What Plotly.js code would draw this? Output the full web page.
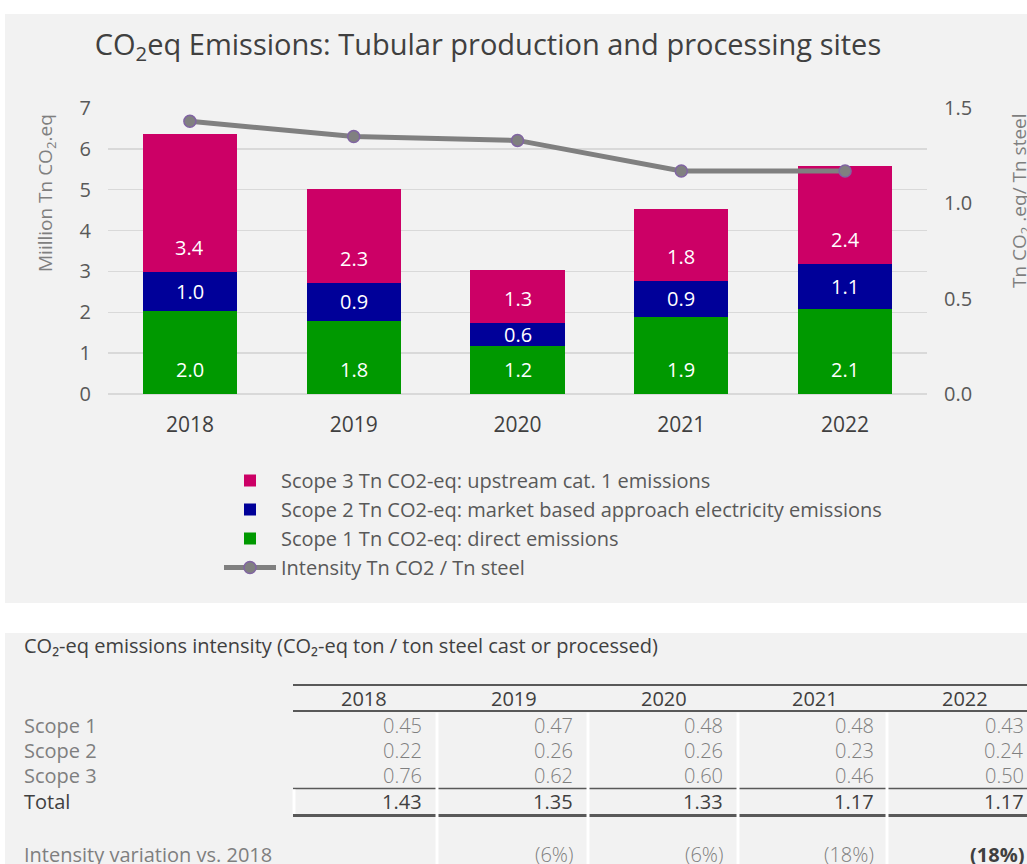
<!DOCTYPE html>
<html>
<head>
<meta charset="utf-8">
<script src="https://cdn.plot.ly/plotly-3.0.1.min.js"></script>
<style>
html,body{margin:0;padding:0;background:#ffffff;}
#chart{width:1027px;height:864px;}
</style>
</head>
<body>
<div id="chart"></div>
<script>
// ---------- chart data ----------
const years = ['2018', '2019', '2020', '2021', '2022'];
const scope1 = [2.03, 1.79, 1.17, 1.89, 2.07];   // Mt CO2-eq, direct
const scope2 = [0.96, 0.93, 0.56, 0.88, 1.12];   // Mt CO2-eq, market based electricity
const scope3 = [3.37, 2.30, 1.30, 1.77, 2.39];   // Mt CO2-eq, upstream cat. 1
const intensity = [1.43, 1.35, 1.33, 1.17, 1.17]; // Tn CO2 / Tn steel
const leftTickVals = [0, 1, 2, 3, 4, 5, 6, 7];
const rightTickVals = [0, 0.5, 1.0, 1.5];

const seriesNames = [
  'Scope 1 Tn CO2-eq: direct emissions',
  'Scope 2 Tn CO2-eq: market based approach electricity emissions',
  'Scope 3 Tn CO2-eq: upstream cat. 1 emissions',
  'Intensity Tn CO2 / Tn steel'
];

// ---------- table data ----------
const tableTitle = 'CO₂-eq emissions intensity (CO₂-eq ton / ton steel cast or processed)';
const tableYears = ['2018', '2019', '2020', '2021', '2022'];
const tableRowLabels = ['Scope 1', 'Scope 2', 'Scope 3', 'Total'];
const tScope1 = ['0.45', '0.47', '0.48', '0.48', '0.43'];
const tScope2 = ['0.22', '0.26', '0.26', '0.23', '0.24'];
const tScope3 = ['0.76', '0.62', '0.60', '0.46', '0.50'];
const tTotal  = ['1.43', '1.35', '1.33', '1.17', '1.17'];
const variationLabel = 'Intensity variation vs. 2018';
const variation = ['', '(6%)', '(6%)', '(18%)', '(18%)'];

// ---------- layout geometry ----------
const W = 1027, H = 864;
const M = {l: 108, r: 100, t: 108, b: 470};
const PW = W - M.l - M.r, PH = H - M.t - M.b;
const xp = px => (px - M.l) / PW;
const yp = py => (M.t + PH - py) / PH;

const FONT = 'Open Sans, Noto Sans, sans-serif';
const COLORS = {s1: '#009900', s2: '#000099', s3: '#cc0066', line: '#808080', mk: '#8064a2'};

// ---------- traces ----------
const traces = [
  {type: 'bar', x: years, y: scope1, name: seriesNames[0], marker: {color: COLORS.s1}, legendrank: 3, hoverinfo: 'skip'},
  {type: 'bar', x: years, y: scope2, name: seriesNames[1], marker: {color: COLORS.s2}, legendrank: 2, hoverinfo: 'skip'},
  {type: 'bar', x: years, y: scope3, name: seriesNames[2], marker: {color: COLORS.s3}, legendrank: 1, hoverinfo: 'skip'},
  {type: 'scatter', mode: 'lines+markers', x: years, y: intensity, yaxis: 'y2', name: seriesNames[3],
   line: {color: COLORS.line, width: 5}, marker: {size: 12, color: COLORS.line, line: {color: COLORS.mk, width: 1.5}},
   legendrank: 4, hoverinfo: 'skip'}
];

// ---------- annotations ----------
const anns = [];
// bar value labels (positions computed from the stacked data; x = category index)
years.forEach((yr, i) => {
  let base = 0;
  [[scope1, 'base'], [scope2, 'mid'], [scope3, 'base']].forEach(([arr, mode]) => {
    const v = arr[i];
    anns.push({
      x: i, y: mode === 'mid' ? base + v / 2 : base, xref: 'x', yref: 'y',
      text: v.toFixed(1), showarrow: false, xanchor: 'center',
      yanchor: mode === 'mid' ? 'middle' : 'bottom', yshift: mode === 'mid' ? 0 : 9,
      font: {family: FONT, size: 20, color: '#ffffff'}
    });
    base += v;
  });
});
// axis titles
anns.push({x: xp(46), y: yp(193), xref: 'paper', yref: 'paper', textangle: -90, showarrow: false,
  xanchor: 'center', yanchor: 'middle',
  text: 'Miillion Tn CO<sub>2</sub>.eq', font: {family: FONT, size: 19, color: '#7f7f7f'}});
anns.push({x: xp(1020), y: yp(201), xref: 'paper', yref: 'paper', textangle: -90, showarrow: false,
  xanchor: 'center', yanchor: 'middle',
  text: 'Tn CO<sub>2</sub> .eq/ Tn steel', font: {family: FONT, size: 19, color: '#7f7f7f'}});

// table texts
const TF = FONT;
const colRight = i => 424 + i * 150.5;
const colCenter = i => 364 + i * 150.2;
const rowY = [725, 750, 775, 801.5];
const tAnn = (px, py, text, anchor, font) => ({x: xp(px), y: yp(py), xref: 'paper', yref: 'paper',
  xanchor: anchor, yanchor: 'middle', showarrow: false, text: text, font: font});
anns.push(tAnn(22, 645, tableTitle, 'left', {family: TF, size: 20, color: '#404040'}));
tableYears.forEach((yr, i) => {
  anns.push(tAnn(colCenter(i), 698.5, yr, 'center', {family: TF, size: 20, color: '#404040'}));
});
tableRowLabels.forEach((lab, r) => {
  anns.push(tAnn(22, rowY[r], lab, 'left', {family: TF, size: 20, color: r === 3 ? '#404040' : '#7f7f7f'}));
});
[tScope1, tScope2, tScope3, tTotal].forEach((arr, r) => {
  arr.forEach((val, i) => {
    anns.push(tAnn(colRight(i), rowY[r], val, 'right',
      {family: TF, size: 20, color: r === 3 ? '#404040' : '#7f7f7f', weight: r === 3 ? 400 : 300}));
  });
});
anns.push(tAnn(22, 854, variationLabel, 'left', {family: TF, size: 20, color: '#7f7f7f'}));
variation.forEach((val, i) => {
  if (!val) return;
  const last = i === variation.length - 1;
  anns.push(tAnn(colRight(i), 854, last ? '<b>' + val + '</b>' : val, 'right',
    {family: TF, size: 20, color: last ? '#404040' : '#7f7f7f', weight: last ? 700 : 300}));
});

// ---------- shapes ----------
const rectPx = (x0, y0, x1, y1, color) => ({type: 'rect', xref: 'paper', yref: 'paper', layer: 'below',
  x0: xp(x0), x1: xp(x1), y0: yp(y1), y1: yp(y0), fillcolor: color, line: {width: 0}});
const linePx = (x0, y0, x1, y1, color, w) => ({type: 'line', xref: 'paper', yref: 'paper',
  x0: xp(x0), x1: xp(x1), y0: yp(y0), y1: yp(y1), line: {color: color, width: w}});
const shapes = [
  rectPx(5, 14, 1040, 603, '#f2f2f2'),
  rectPx(5, 633, 1040, 880, '#f2f2f2'),
  linePx(293, 685, 1040, 685, '#595959', 2),
  linePx(293, 711, 1040, 711, '#595959', 2),
  linePx(293, 788.5, 1040, 788.5, '#595959', 1.5),
  linePx(293, 815.5, 1040, 815.5, '#595959', 3)
];
[437, 588, 738, 887].forEach(x => shapes.push(linePx(x, 712.5, x, 880, '#ffffff', 3)));
shapes.push(linePx(294, 789.5, 294, 814, '#ffffff', 3));

const layout = {
  width: W, height: H,
  margin: M,
  paper_bgcolor: '#ffffff',
  plot_bgcolor: 'rgba(0,0,0,0)',
  font: {family: FONT, color: '#595959'},
  title: {text: 'CO<sub>2</sub>eq Emissions: Tubular production and processing sites',
    x: 488 / W, xref: 'container', xanchor: 'center', y: 1 - 45 / H, yref: 'container', yanchor: 'middle',
    font: {family: FONT, size: 29, color: '#404040'}},
  barmode: 'stack',
  bargap: 0.426,
  xaxis: {type: 'category', range: [-0.5, years.length - 0.5], autorange: false,
    showgrid: false, zeroline: false, showline: false, ticks: '',
    tickfont: {family: FONT, size: 21, color: '#404040'}, ticklabelstandoff: 16, fixedrange: true},
  yaxis: {range: [0, 7], autorange: false, tickvals: leftTickVals, showgrid: true, gridcolor: '#d9d9d9', gridwidth: 1.5,
    zeroline: true, zerolinecolor: '#d9d9d9', zerolinewidth: 1.5, showline: false, ticks: '',
    tickfont: {family: FONT, size: 20, color: '#595959'}, ticklabelstandoff: 16, fixedrange: true},
  yaxis2: {range: [0, 1.5], autorange: false, tickvals: rightTickVals, tickformat: '.1f', overlaying: 'y', side: 'right',
    showgrid: false, zeroline: false, showline: false, ticks: '',
    tickfont: {family: FONT, size: 20, color: '#595959'}, ticklabelstandoff: 16, fixedrange: true},
  showlegend: true,
  legend: {orientation: 'v', traceorder: 'normal', x: xp(219), xanchor: 'left', y: yp(461), yanchor: 'top',
    bgcolor: 'rgba(0,0,0,0)', itemwidth: 52, font: {family: FONT, size: 20, color: '#595959'},
    itemclick: false, itemdoubleclick: false},
  annotations: anns,
  shapes: shapes
};

Plotly.newPlot('chart', traces, layout, {displayModeBar: false, staticPlot: true});
</script>
</body>
</html>
